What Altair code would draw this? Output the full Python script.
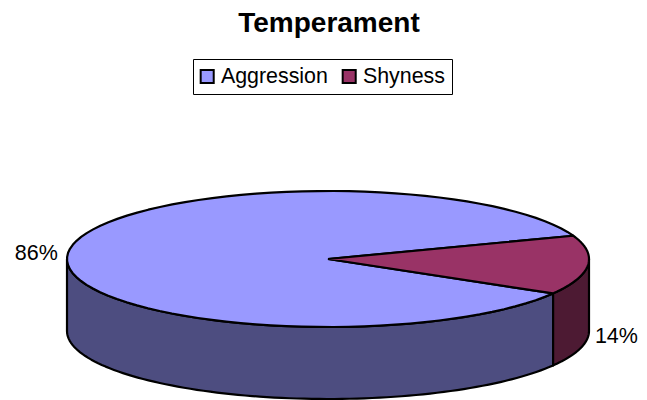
import math
import altair as alt
import pandas as pd

categories = ["Aggression", "Shyness"]
values = [86, 14]
labels = ["86%", "14%"]
top_colors = ["#9999FF", "#993366"]
wall_colors = ["#4D4D80", "#4D1A33"]
title_text = "Temperament"

START_DEG = 20.0
DEPTH = 72 / 68
W, H, TOP = 631, 352, 40
X_DOM = [-320 / 261, 311 / 261]
Y_DOM = [-141 / 68, 211 / 68]
LINE = 2.2

shy_sweep = values[1] / sum(values) * 360
shy_a, shy_b = START_DEG, START_DEG - shy_sweep
agg_a, agg_b = shy_b, START_DEG - 360


def pts(a, b, dy=0.0, n=90):
    return [(math.cos(math.radians(a + (b - a) * i / n)),
             math.sin(math.radians(a + (b - a) * i / n)) - dy) for i in range(n + 1)]


def poly(points, fill):
    pts_closed = points + [points[0]]
    df = pd.DataFrame({"u": [p[0] for p in pts_closed],
                       "v": [p[1] for p in pts_closed],
                       "i": range(len(pts_closed))})
    return alt.Chart(df).mark_line(fill=fill, stroke="black", strokeWidth=LINE,
                                   strokeJoin="round", clip=False).encode(
        x=alt.X("u:Q", scale=alt.Scale(domain=X_DOM), axis=None),
        y=alt.Y("v:Q", scale=alt.Scale(domain=Y_DOM), axis=None),
        order="i:O",
    )


def wall(a, b, fill):
    return poly(pts(a, b) + pts(b, a, DEPTH), fill)


layers = [
    wall(-180, shy_b, wall_colors[0]),
    wall(shy_b, 0, wall_colors[1]),
    poly([(0, 0)] + pts(agg_a, agg_b), top_colors[0]),
    poly([(0, 0)] + pts(shy_a, shy_b), top_colors[1]),
]

label_df = pd.DataFrame({
    "u": [-1.1175, 1.105],
    "v": [0.07, -1.15],
    "t": labels,
})
layers.append(alt.Chart(label_df).mark_text(
    font="Liberation Sans", fontSize=21.5, color="black").encode(
    x=alt.X("u:Q", scale=alt.Scale(domain=X_DOM), axis=None),
    y=alt.Y("v:Q", scale=alt.Scale(domain=Y_DOM), axis=None),
    text="t:N",
))

legend_df = pd.DataFrame({"c": categories, "u": [0, 0], "v": [0, 0]})
layers.append(alt.Chart(legend_df).mark_point(filled=True, size=0, opacity=0).encode(
    x=alt.X("u:Q", scale=alt.Scale(domain=X_DOM), axis=None),
    y=alt.Y("v:Q", scale=alt.Scale(domain=Y_DOM), axis=None),
    color=alt.Color("c:N", sort=categories,
                    scale=alt.Scale(domain=categories, range=top_colors),
                    legend=alt.Legend(
                        title=None, orient="none", legendX=185, legendY=11,
                        direction="horizontal", columns=2,
                        symbolType="square", symbolSize=170, symbolOpacity=1,
                        symbolStrokeColor="black", symbolStrokeWidth=2,
                        symbolOffset=-3,
                        labelFont="Liberation Sans", labelFontSize=21.4, labelColor="black",
                        labelOffset=3, columnPadding=10, padding=6.5,
                        strokeColor="black", fillColor="white", labelLimit=200)),
))

chart = alt.layer(*layers).properties(
    width=W, height=H,
    title=alt.TitleParams(title_text, font="Liberation Sans", fontSize=28, fontWeight="bold",
                          color="black", anchor="middle", dx=5.5, offset=10),
    padding={"left": 0, "right": 0, "top": TOP, "bottom": 0},
    autosize=alt.AutoSizeParams(type="none"),
).configure_view(stroke=None)

chart.save("out.html", embed_options={"renderer": "svg", "actions": False})
